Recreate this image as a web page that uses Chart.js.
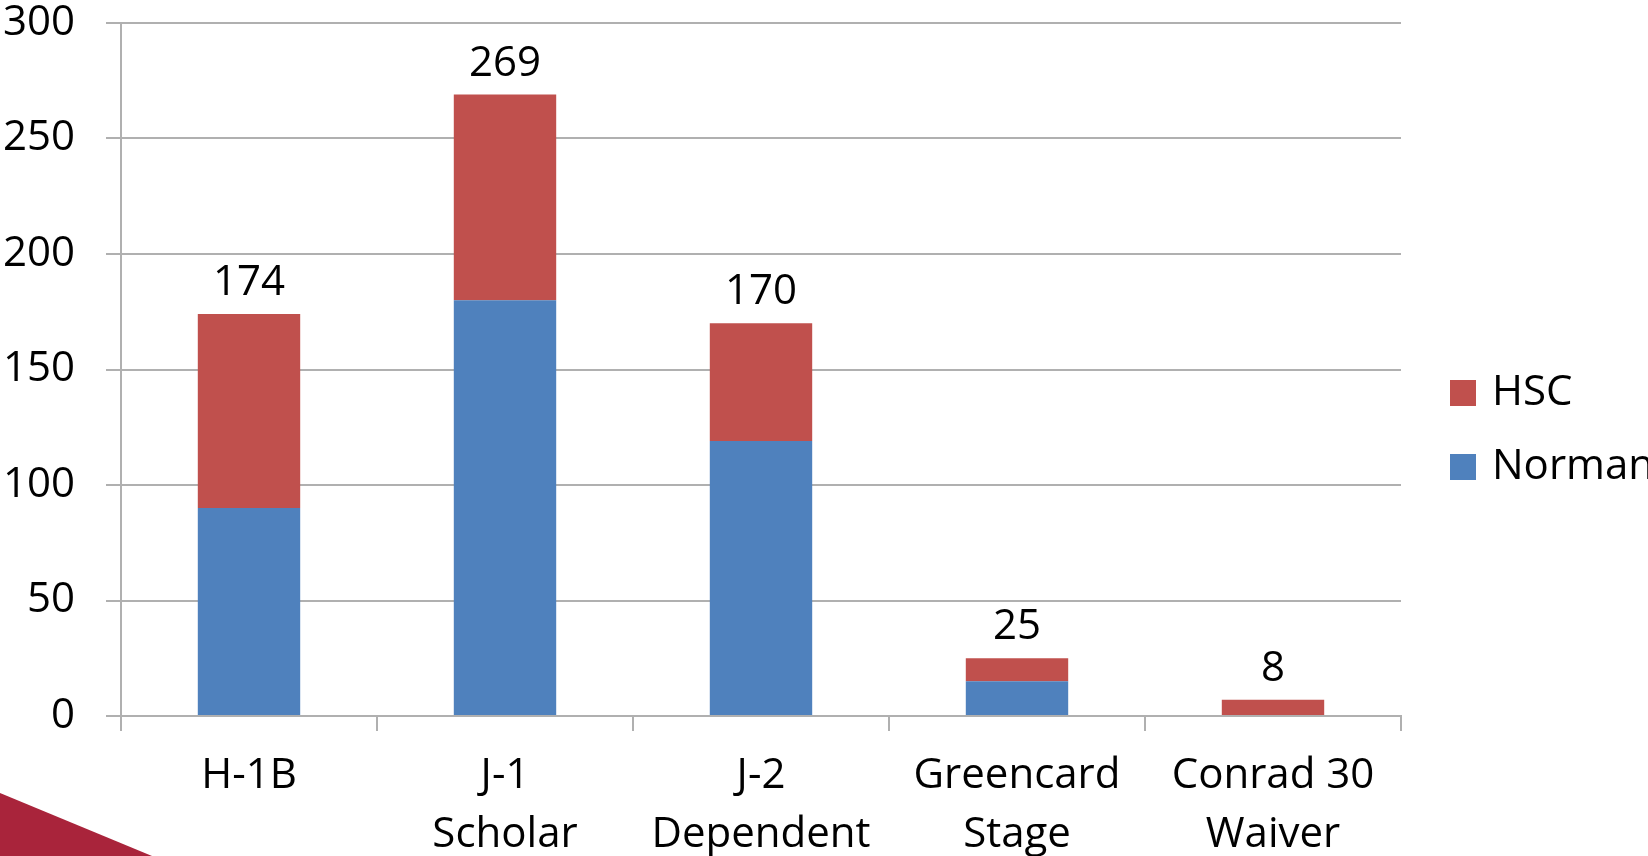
<!DOCTYPE html>
<html>
<head>
<meta charset="utf-8">
<script src="https://cdn.jsdelivr.net/npm/chart.js@4"></script>
<style>
  html, body { margin: 0; padding: 0; background: #ffffff; overflow: hidden; }
  #wrap { position: relative; width: 1648px; height: 856px; }
  #wedge { position: absolute; left: 0; top: 0; width: 1648px; height: 856px;
           background: #A9243B; clip-path: polygon(0px 793px, 152px 856px, 0px 856px); }
  canvas { position: absolute; left: 0; top: 0; }
</style>
</head>
<body>
<div id="wrap">
  <div id="wedge"></div>
  <canvas id="c" width="1648" height="856"></canvas>
</div>
<script>
// ---- data ----
const categories = [["H-1B"], ["J-1", "Scholar"], ["J-2", "Dependent"], ["Greencard", "Stage"], ["Conrad 30", "Waiver"]];
const normanValues = [90, 180, 119, 15, 0];
const hscValues = [84, 89, 51, 10, 7];
const totalLabels = ["174", "269", "170", "25", "8"];
const yTicks = [0, 50, 100, 150, 200, 250, 300];

const FONT = '"Open Sans", "Noto Sans", sans-serif';
const GRID = '#B0B0B0';

const totalsPlugin = {
  id: 'totals',
  afterDatasetsDraw(chart) {
    const ctx = chart.ctx;
    const ys = chart.scales.y, xs = chart.scales.x;
    ctx.save();
    ctx.font = '42px ' + FONT;
    ctx.fillStyle = '#000000';
    ctx.textAlign = 'center';
    ctx.textBaseline = 'middle';
    categories.forEach((c, i) => {
      const top = normanValues[i] + hscValues[i];
      const x = xs.getPixelForValue(i);
      const y = ys.getPixelForValue(top) - 31;
      ctx.fillText(totalLabels[i], x, y);
    });
    ctx.restore();
  }
};

const legendPlugin = {
  id: 'sideLegend',
  afterDraw(chart) {
    const ctx = chart.ctx;
    const area = chart.chartArea;
    const items = chart.data.datasets.slice().reverse();
    const boxX = area.right + 49;
    const midY = chart.height / 2 + 2;
    const step = 74;
    const startY = midY - step * (items.length - 1) / 2;
    ctx.save();
    ctx.font = '42px ' + FONT;
    ctx.textAlign = 'left';
    ctx.textBaseline = 'middle';
    items.forEach((ds, k) => {
      const cy = startY + k * step;
      ctx.fillStyle = ds.backgroundColor;
      ctx.fillRect(boxX, cy - 13, 26, 26);
      ctx.fillStyle = '#000000';
      ctx.fillText(ds.label, boxX + 42, cy);
    });
    ctx.restore();
  }
};

function draw() {
  new Chart(document.getElementById('c'), {
    type: 'bar',
    data: {
      labels: categories,
      datasets: [
        { label: 'Norman', data: normanValues, backgroundColor: '#4F81BD', borderWidth: 0,
          categoryPercentage: 0.8, barPercentage: 0.5 },
        { label: 'HSC', data: hscValues, backgroundColor: '#C0504D', borderWidth: 0,
          categoryPercentage: 0.8, barPercentage: 0.5 }
      ]
    },
    options: {
      responsive: false,
      animation: false,
      layout: { padding: { top: 23, right: 247, bottom: 0, left: 0 } },
      plugins: { legend: { display: false }, tooltip: { enabled: false } },
      scales: {
        x: {
          stacked: true,
          afterFit(s) { s.height = 140; s.paddingLeft = 0; s.paddingRight = 0; },
          grid: { display: true, drawOnChartArea: false, drawTicks: true, tickLength: 15,
                  color: GRID, lineWidth: 2, offset: true },
          border: { display: true, color: GRID, width: 2 },
          ticks: { color: '#000000', padding: 16, maxRotation: 0, autoSkip: false,
                   font: { family: FONT, size: 42, lineHeight: 1.39 } }
        },
        y: {
          stacked: true,
          min: yTicks[0],
          max: yTicks[yTicks.length - 1],
          afterFit(s) { s.width = 121; s.paddingTop = 0; s.paddingBottom = 0; },
          afterBuildTicks(s) { s.ticks = yTicks.map(v => ({ value: v })); },
          grid: { color: GRID, lineWidth: 2, tickLength: 15, drawTicks: true },
          border: { display: true, color: GRID, width: 2 },
          ticks: { color: '#000000', padding: 31,
                   font: { family: FONT, size: 42, lineHeight: 1 } }
        }
      }
    },
    plugins: [totalsPlugin, legendPlugin]
  });
}

if (document.fonts && document.fonts.load) {
  document.fonts.load('42px "Open Sans"').then(draw, draw);
} else {
  draw();
}
</script>
</body>
</html>
